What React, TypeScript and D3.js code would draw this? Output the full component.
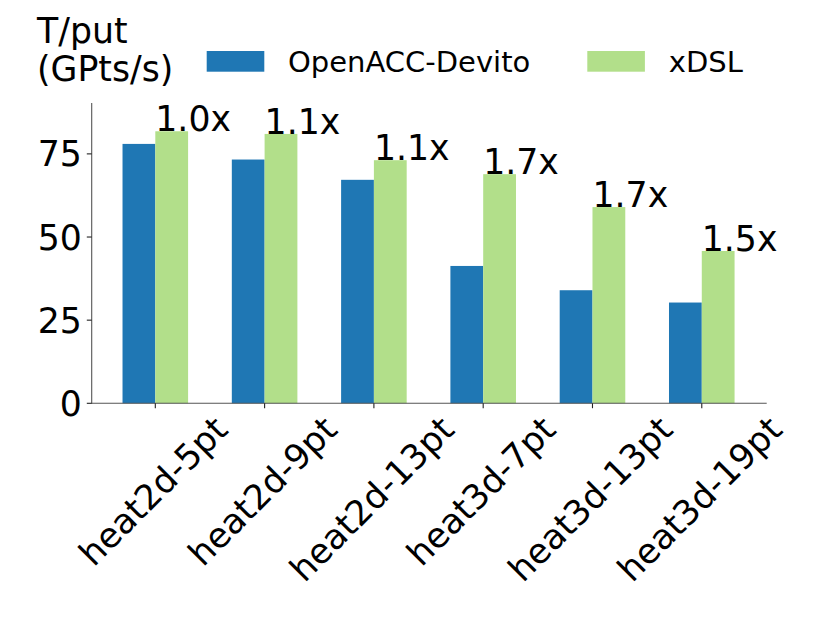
import React, { useEffect, useRef } from "react";
import * as d3 from "d3";

const categories = ["heat2d-5pt", "heat2d-9pt", "heat2d-13pt", "heat3d-7pt", "heat3d-13pt", "heat3d-19pt"];
const openaccDevito = [78.0, 73.3, 67.2, 41.3, 34.0, 30.3];
const xdsl = [81.8, 81.0, 73.1, 68.9, 59.0, 45.8];
const speedupLabels = ["1.0x", "1.1x", "1.1x", "1.7x", "1.7x", "1.5x"];
const yTicks = [0, 25, 50, 75];
const seriesNames = ["OpenACC-Devito", "xDSL"];
const seriesColors = ["#1f77b4", "#b2df8a"];

const W = 830;
const H = 623;
const FONT = "DejaVu Sans, sans-serif";
const TICK_FS = 34.7;
const LEG_FS = 29;

export default function App() {
  const ref = useRef<SVGSVGElement | null>(null);

  useEffect(() => {
    const svg = d3.select(ref.current);
    svg.selectAll("*").remove();

    const left = 91.7, right = 766.7, bottom = 403.3, top = 103;
    const x = d3.scaleLinear().domain([-0.582, 5.594]).range([left, right]);
    const y = d3.scaleLinear().domain([0, 90.3]).range([bottom, top]);
    const bw = 0.3;

    svg.append("rect").attr("width", W).attr("height", H).attr("fill", "white");

    const g = svg.append("g");
    // bars
    g.selectAll("rect.blue")
      .data(openaccDevito)
      .join("rect")
      .attr("x", (_, i) => x(i - bw))
      .attr("width", x(bw) - x(0))
      .attr("y", (d) => y(d))
      .attr("height", (d) => y(0) - y(d))
      .attr("fill", seriesColors[0]);
    g.selectAll("rect.green")
      .data(xdsl)
      .join("rect")
      .attr("x", (_, i) => x(i))
      .attr("width", x(bw) - x(0))
      .attr("y", (d) => y(d))
      .attr("height", (d) => y(0) - y(d))
      .attr("fill", seriesColors[1]);

    // speedup labels
    g.selectAll("text.sp")
      .data(speedupLabels)
      .join("text")
      .attr("x", (_, i) => x(i))
      .attr("y", (_, i) => y(xdsl[i]))
      .attr("font-family", FONT)
      .attr("font-size", TICK_FS)
      .attr("fill", "black")
      .text((d) => d);

    // spines
    const spine = "#555";
    svg.append("line").attr("x1", left).attr("x2", left).attr("y1", top).attr("y2", bottom + 0.5).attr("stroke", spine).attr("stroke-width", 1.1);
    svg.append("line").attr("x1", left).attr("x2", right).attr("y1", bottom).attr("y2", bottom).attr("stroke", spine).attr("stroke-width", 1.1);

    // y ticks
    yTicks.forEach((t) => {
      svg.append("line").attr("x1", left - 4.9).attr("x2", left).attr("y1", y(t)).attr("y2", y(t)).attr("stroke", "#222").attr("stroke-width", 1.1);
      svg.append("text")
        .attr("x", left - 4.9 - 4.9)
        .attr("y", y(t))
        .attr("dy", "0.36em")
        .attr("text-anchor", "end")
        .attr("font-family", FONT)
        .attr("font-size", TICK_FS)
        .attr("fill", "black")
        .text(String(t));
    });

    // x ticks & rotated labels
    const asc = 0.76 * TICK_FS, desc = 0.24 * TICK_FS;
    const labelTop = bottom + 4.9 + 4.9;
    categories.forEach((c, i) => {
      svg.append("line").attr("x1", x(i)).attr("x2", x(i)).attr("y1", bottom).attr("y2", bottom + 4.9).attr("stroke", "#222").attr("stroke-width", 1.1);
      const t = svg.append("text")
        .attr("text-anchor", "end")
        .attr("font-family", FONT)
        .attr("font-size", TICK_FS)
        .attr("fill", "black")
        .text(c);
      const L = (t.node() as SVGTextElement).getComputedTextLength();
      const ax = x(i) + 0.35355 * (L + asc - desc);
      const ay = labelTop + 0.7071 * asc;
      t.attr("transform", `translate(${ax},${ay}) rotate(-45)`);
    });

    // y label
    const yl = svg.append("text").attr("font-family", FONT).attr("font-size", TICK_FS).attr("fill", "black");
    yl.append("tspan").attr("x", 37).attr("y", 43).text("T/put");
    yl.append("tspan").attr("x", 37).attr("y", 80.6).text("(GPts/s)");

    // legend
    const legX = [206.7, 587.3];
    const legTextX = [288, 668.8];
    seriesNames.forEach((n, i) => {
      svg.append("rect").attr("x", legX[i]).attr("y", 51).attr("width", 57.6).attr("height", 20.7).attr("fill", seriesColors[i]);
      svg.append("text")
        .attr("x", legTextX[i])
        .attr("y", 71.7)
        .attr("font-family", FONT)
        .attr("font-size", LEG_FS)
        .attr("fill", "black")
        .text(n);
    });
  }, []);

  return (
    <svg
      ref={ref}
      width={W}
      height={H}
      style={{ position: "absolute", left: 0, top: 0, display: "block" }}
    />
  );
}
